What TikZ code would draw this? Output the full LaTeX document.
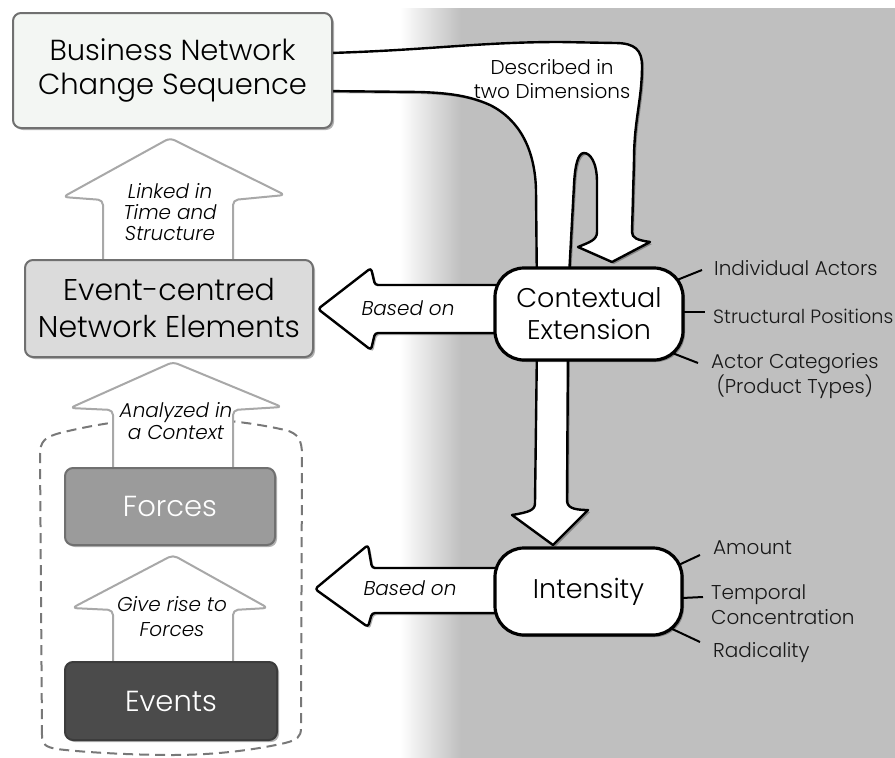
\documentclass[tikz,border=0pt]{standalone}
\usepackage{fontspec}
\setmainfont{Poppins}[UprightFont=* Light, ItalicFont=* Light Italic]
\usetikzlibrary{shadows}
\definecolor{bggray}{RGB}{191,191,191}
\definecolor{boxone}{RGB}{243,246,243}
\definecolor{boxtwo}{RGB}{219,219,219}
\definecolor{forcefill}{RGB}{155,155,155}
\definecolor{eventfill}{RGB}{75,75,75}
\definecolor{boxline}{RGB}{112,112,112}
\definecolor{lightline}{RGB}{168,168,168}
\definecolor{dashline}{RGB}{120,120,120}
\begin{document}
\begin{tikzpicture}[x=1pt,y=-1pt,
  softshadow/.style={drop shadow={shadow xshift=2pt,shadow yshift=-2pt,opacity=0.3,fill=black}},
  boxnode/.style={draw=boxline,line width=2pt,rounded corners=8pt,align=center,inner sep=0pt,softshadow},
  bignode/.style={draw=black,line width=3.2pt,fill=white,rounded corners=29pt,align=center,inner sep=0pt,softshadow,font=\fontsize{27}{32}\selectfont},
  darrow/.style={draw=black,line width=2.4pt,fill=white,line join=round,softshadow},
  larrow/.style={draw=lightline,line width=2pt,fill=white,line join=round},
  lbl/.style={anchor=west,inner sep=0pt,font=\fontsize{20}{23}\selectfont,text=black!90},
  arrowtext/.style={align=center,inner sep=0pt,font=\itshape\fontsize{20}{21}\selectfont},
  tick/.style={line width=2pt,draw=black}
]
\useasboundingbox (0,0) rectangle (895,758);
% background
\fill[bggray] (460,8) rectangle (895,758);
\shade[left color=white,right color=bggray] (400,8) rectangle (461,758);

% dashed region
\draw[dashline,line width=2pt,dash pattern=on 10pt off 6pt]
  (42,735) -- (40,455) .. controls (40,441) and (45,437) .. (60,433)
  .. controls (100,423) and (140,418) .. (172,418)
  .. controls (210,418) and (250,422) .. (285,430)
  .. controls (298,433) and (302,440) .. (302,455)
  -- (301,728) .. controls (301,737) and (297,740) .. (285,743)
  .. controls (250,751) and (210,755) .. (172,755)
  .. controls (130,755) and (80,752) .. (57,749)
  .. controls (46,747) and (42,745) .. (42,735);

% light arrows (left column)
\draw[larrow,rounded corners=5pt] (103,266) -- (103,200) -- (63,197) -- (170,138) -- (285,195) -- (233,200) -- (233,266);
\draw[larrow,rounded corners=5pt] (113,472) -- (113,410) -- (70,408) -- (173,362) -- (282,407) -- (233,410) -- (233,472);
\draw[larrow,rounded corners=5pt] (113,666) -- (113,610) -- (72,608) -- (173,555) -- (268,608) -- (233,610) -- (233,666);

% top arrow "Described in two Dimensions"
\draw[darrow] (320,53) -- (330,53) .. controls (430,50) and (480,42) .. (560,42)
  -- (615,43) .. controls (635,43) and (642,50) .. (642,66)
  .. controls (642,100) and (634,120) .. (634,160)
  -- (632,232) .. controls (632,238) and (637,240) .. (650,242)
  -- (612,262) -- (578,247)
  .. controls (590,242) and (597,240) .. (597,232)
  -- (597,182) .. controls (597,162) and (590,153) .. (584,153)
  .. controls (578,153) and (575,165) .. (574,185)
  -- (568,295) -- (537,295) -- (536,190)
  .. controls (535,150) and (520,120) .. (490,105)
  .. controls (470,96) and (450,93) .. (420,92)
  -- (320,91) -- cycle;
% middle arrow down to Intensity
\draw[darrow] (537,345) -- (535,503) .. controls (535,510) and (530,512) .. (512,515)
  -- (553,545) -- (588,510) .. controls (572,510) and (567,507) .. (567,500)
  -- (568,345) -- cycle;
% based-on arrows
\draw[darrow,rounded corners=3pt] (515,285) -- (375,285) -- (371,268) -- (318,309) -- (371,350) -- (375,333) -- (515,333) -- cycle;
\draw[darrow,rounded corners=3pt] (515,568) -- (372,568) -- (368,545) -- (315,589) -- (368,627) -- (372,613) -- (515,613) -- cycle;

% texts on arrows
\node[align=center,inner sep=0pt,font=\fontsize{20}{24}\selectfont] (desc) at (552,79) {Described in\\two Dimensions};
\node[arrowtext] (linked) at (170,212) {Linked in\\Time and\\Structure};
\node[arrowtext,font=\itshape\fontsize{20}{22}\selectfont] (analyzed) at (176,421) {Analyzed in\\a Context};
\node[arrowtext,font=\itshape\fontsize{20}{25}\selectfont] (giverise) at (172,617) {Give rise to\\Forces};
\node[arrowtext] (based1) at (408,308) {Based on};
\node[arrowtext] (based2) at (410,588) {Based on};

% boxes
\node[boxnode,fill=boxone,minimum width=319pt,minimum height=115pt,font=\fontsize{29}{34}\selectfont] (bncs) at (172.5,70.5) {Business Network\\Change Sequence};
\node[boxnode,fill=boxtwo,minimum width=288pt,minimum height=97pt,font=\fontsize{30}{37}\selectfont] (ecne) at (169,308.5) {Event-centred\\Network Elements};
\node[boxnode,fill=forcefill,minimum width=210pt,minimum height=77pt,text=white,font=\fontsize{29}{34}\selectfont] (forces) at (170,506.5) {Forces};
\node[boxnode,draw=eventfill!80!black,fill=eventfill,minimum width=212pt,minimum height=78pt,text=white,font=\fontsize{29}{34}\selectfont] (events) at (171,701) {Events};

% ticks (drawn below the main nodes)
\coordinate (t1a) at (662,286); \coordinate (t1b) at (702,270);
\coordinate (t2a) at (682,312); \coordinate (t2b) at (705,312);
\coordinate (t3a) at (662,349); \coordinate (t3b) at (698,363);
\coordinate (t4a) at (670,569); \coordinate (t4b) at (700,555);
\coordinate (t5a) at (682,598); \coordinate (t5b) at (703,597);
\coordinate (t6a) at (668,627); \coordinate (t6b) at (700,642);
\draw[tick] (t1a) -- (t1b);
\draw[tick] (t2a) -- (t2b);
\draw[tick] (t3a) -- (t3b);
\draw[tick] (t4a) -- (t4b);
\draw[tick] (t5a) -- (t5b);
\draw[tick] (t6a) -- (t6b);

% main nodes
\node[bignode,minimum width=188pt,minimum height=92pt] (ctx) at (589,314) {Contextual\\Extension};
\node[bignode,minimum width=187pt,minimum height=87pt] (inten) at (588.5,591.5) {Intensity};

% labels
\node[lbl] (ia) at (714,268) {Individual Actors};
\node[lbl,font=\fontsize{19.2}{23}\selectfont] (sp) at (713,316) {Structural Positions};
\node[lbl,align=center] (ac) at (711,376) {Actor Categories\\(Product Types)};
\node[lbl] (am) at (713,548) {Amount};
\node[lbl,align=left,font=\fontsize{20}{25}\selectfont] (tc) at (711,605) {Temporal\\Concentration};
\node[lbl] (ra) at (713,653) {Radicality};
\end{tikzpicture}
\end{document}
